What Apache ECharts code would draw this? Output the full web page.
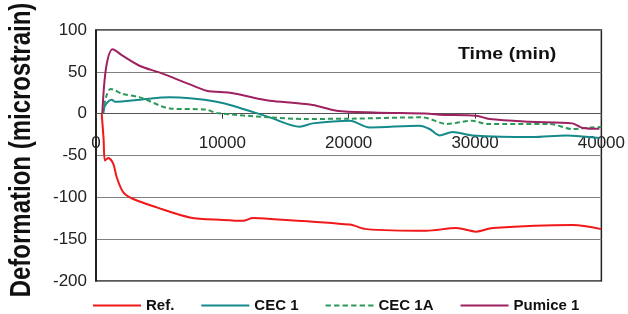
<!DOCTYPE html>
<html>
<head>
<meta charset="utf-8">
<script src="https://cdn.jsdelivr.net/npm/echarts@6/dist/echarts.min.js"></script>
<style>
  html, body { margin: 0; padding: 0; background: #fff; }
  #main { width: 628px; height: 314px; }
</style>
</head>
<body>
<div id="main"></div>
<script>
// series names
var seriesNames = ['Ref.', 'CEC 1', 'CEC 1A', 'Pumice 1'];

// Ref.
var refTime  = [450, 600, 710, 970, 1370, 1640, 2160, 2950, 4800, 7430, 10060, 11640, 12430, 12960, 20080, 21400, 26140, 28510, 30090, 31410, 37730, 40000];
var refValue = [0, -30, -56, -53, -60, -76, -94, -102, -112, -124, -127, -128, -124.6, -125, -132.6, -138, -140, -136.6, -141, -136.6, -133, -138];

// CEC 1
var cec1Time  = [580, 710, 1240, 1500, 3480, 5850, 7430, 9540, 10830, 13750, 16130, 17150, 20080, 21660, 25610, 26400, 27190, 28220, 29800, 34540, 37230, 39840];
var cec1Value = [0, 9.5, 16.7, 14.3, 16.7, 19.5, 18.3, 14.3, 9.5, -4.4, -15.5, -11.6, -8.4, -16.4, -14.3, -18.3, -26, -22, -26, -28, -26, -29];

// CEC 1A
var cec1aTime  = [550, 800, 1160, 2130, 3480, 5850, 8750, 9540, 13750, 16370, 20080, 25850, 27740, 29800, 30880, 35890, 37710, 39290, 40000];
var cec1aValue = [0, 20, 29.5, 23.5, 19.5, 6.3, 4.8, 0.8, -4.4, -6.3, -6, -4.4, -12.3, -8.4, -12.3, -12.3, -18.3, -16.4, -16];

// Pumice 1
var pumTime  = [500, 800, 1320, 2130, 3480, 5060, 7430, 8750, 10590, 11630, 12960, 13750, 17150, 19030, 22000, 26400, 27190, 30090, 31150, 34300, 37710, 38500, 39840];
var pumValue = [0, 55, 77, 69, 57, 49, 35, 27.5, 25, 22, 17.5, 15.5, 10.4, 3.6, 1.5, 0, -1.2, -2.4, -6.4, -9.6, -11.6, -17, -18];

function pairs(t, v) {
  return t.map(function (x, i) { return [x, v[i]]; });
}

var myChart = echarts.init(document.getElementById('main'));
var font = 'Liberation Sans, Arial, sans-serif';
var solidIcon = 'path://M0,4 L48,4 L48,6 L0,6 Z';

option = {
  backgroundColor: '#fff',
  animation: false,
  textStyle: { fontFamily: font },
  grid: { left: 96, right: 26, top: 30, bottom: 33, show: true, borderColor: '#222', borderWidth: 1.5 },
  legend: {
    left: 88,
    top: 293,
    itemWidth: 48,
    itemHeight: 10,
    itemGap: 27,
    textStyle: { fontFamily: font, fontSize: 15, fontWeight: 'bold', color: '#111' },
    data: [
      { name: 'Ref.', icon: solidIcon },
      { name: 'CEC 1', icon: solidIcon },
      { name: 'CEC 1A', icon: 'path://M0,4 L5,4 L5,6 L0,6 Z M8,4 L13,4 L13,6 L8,6 Z M16,4 L21,4 L21,6 L16,6 Z M24,4 L29,4 L29,6 L24,6 Z M32,4 L37,4 L37,6 L32,6 Z M40,4 L45,4 L45,6 L40,6 Z' },
      { name: 'Pumice 1', icon: solidIcon }
    ]
  },
  graphic: [
    {
      type: 'text',
      x: 458,
      y: 55,
      scaleX: 1.22,
      style: { text: 'Time (min)', font: 'bold 16px ' + font, fill: '#111', align: 'left', verticalAlign: 'middle' }
    },
    {
      type: 'text',
      x: 22,
      y: 150,
      rotation: Math.PI / 2,
      scaleY: 1.2,
      style: { text: 'Deformation (microstrain)', font: 'bold 24px ' + font, fill: '#111', align: 'center', verticalAlign: 'middle' }
    }
  ],
  xAxis: {
    type: 'value',
    min: 0,
    max: 40000,
    interval: 10000,
    axisLine: { onZero: true, lineStyle: { color: '#555', width: 1 } },
    axisTick: { show: true, length: 5, lineStyle: { color: '#333' } },
    axisLabel: {
      margin: -146, fontSize: 17, color: '#222', fontFamily: font,
      formatter: function (value) { return String(value); }
    },
    splitLine: { show: false }
  },
  yAxis: {
    type: 'value',
    min: -200,
    max: 100,
    interval: 50,
    axisLine: { show: true, onZero: false, lineStyle: { color: '#111', width: 1.5 } },
    axisTick: { show: false },
    axisLabel: { fontSize: 17, color: '#222', margin: 9, fontFamily: font },
    splitLine: { show: true, lineStyle: { color: '#808080', width: 1 } }
  },
  series: [
    {
      name: 'Ref.',
      type: 'line',
      smooth: 0.3,
      symbol: 'none',
      color: '#f01818',
      lineStyle: { width: 2, color: '#f01818' },
      data: pairs(refTime, refValue)
    },
    {
      name: 'CEC 1',
      type: 'line',
      smooth: 0.3,
      symbol: 'none',
      color: '#168a8a',
      lineStyle: { width: 2, color: '#168a8a' },
      data: pairs(cec1Time, cec1Value)
    },
    {
      name: 'CEC 1A',
      type: 'line',
      smooth: 0.3,
      symbol: 'none',
      color: '#2a9a5a',
      lineStyle: { width: 2, color: '#2a9a5a', type: [5, 3] },
      data: pairs(cec1aTime, cec1aValue)
    },
    {
      name: 'Pumice 1',
      type: 'line',
      smooth: 0.3,
      symbol: 'none',
      color: '#9e2160',
      lineStyle: { width: 2, color: '#9e2160' },
      data: pairs(pumTime, pumValue)
    }
  ]
};

myChart.setOption(option);
</script>
</body>
</html>
